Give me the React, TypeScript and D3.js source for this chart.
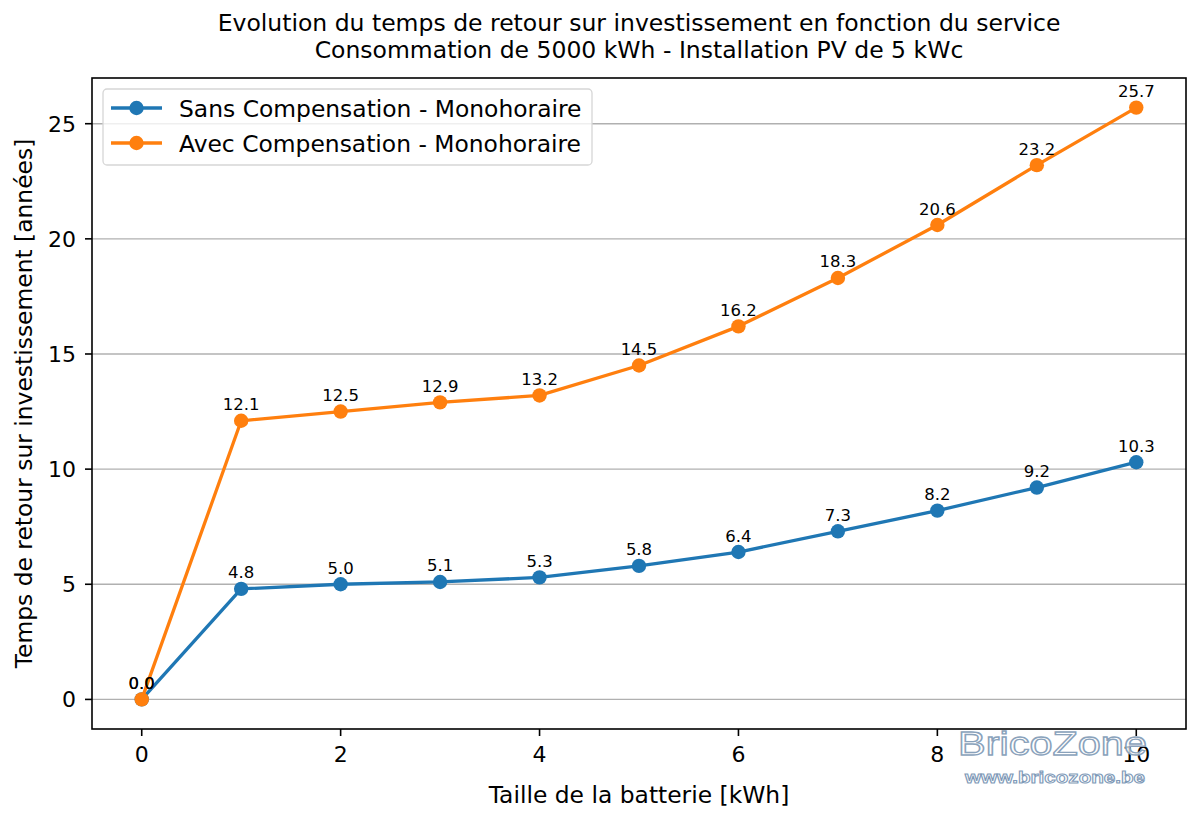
import React from "react";
import * as d3 from "d3";

// Battery size (kWh) and payback time (years) for each service option
const batterySizes = [0, 1, 2, 3, 4, 5, 6, 7, 8, 9, 10];
const sansCompensation = [0.0, 4.8, 5.0, 5.1, 5.3, 5.8, 6.4, 7.3, 8.2, 9.2, 10.3];
const avecCompensation = [0.0, 12.1, 12.5, 12.9, 13.2, 14.5, 16.2, 18.3, 20.6, 23.2, 25.7];
const seriesNames = ["Sans Compensation - Monohoraire", "Avec Compensation - Monohoraire"];
const seriesColors = ["#1f77b4", "#ff7f0e"];
const xTicks = [0, 2, 4, 6, 8, 10];
const yTicks = [0, 5, 10, 15, 20, 25];

const W = 1200;
const H = 823;
const left = 92;
const right = 1186;
const top = 78;
const bottom = 729;
const FONT = "DejaVu Sans, sans-serif";

export default function App() {
  const allValues = [...sansCompensation, ...avecCompensation];
  const yMin = d3.min(allValues) as number;
  const yMax = d3.max(allValues) as number;
  const yPad = (yMax - yMin) * 0.05;
  const xMin = d3.min(batterySizes) as number;
  const xMax = d3.max(batterySizes) as number;
  const xPad = (xMax - xMin) * 0.05;

  const x = d3.scaleLinear().domain([xMin - xPad, xMax + xPad]).range([left, right]);
  const y = d3.scaleLinear().domain([yMin - yPad, yMax + yPad]).range([bottom, top]);

  const line = d3
    .line<number>()
    .x((_, i) => x(batterySizes[i]))
    .y((d) => y(d));

  const series = [sansCompensation, avecCompensation];
  const cx = (left + right) / 2;

  return (
    <svg width={W} height={H} style={{ position: "absolute", left: 0, top: 0 }} fontFamily={FONT}>
      <rect width={W} height={H} fill="#ffffff" />
      <text x={cx} y={31} textAnchor="middle" fontSize={23.5}>
        Evolution du temps de retour sur investissement en fonction du service
      </text>
      <text x={cx} y={58} textAnchor="middle" fontSize={23.5}>
        Consommation de 5000 kWh - Installation PV de 5 kWc
      </text>

      {/* horizontal grid */}
      {yTicks.map((t) => (
        <line key={"g" + t} x1={left} x2={right} y1={y(t)} y2={y(t)} stroke="#b0b0b0" strokeWidth={1.4} />
      ))}

      {/* series */}
      {series.map((vals, si) => (
        <g key={"s" + si}>
          <path d={line(vals) || ""} fill="none" stroke={seriesColors[si]} strokeWidth={3.3} strokeLinejoin="round" />
          {vals.map((v, i) => (
            <circle key={i} cx={x(batterySizes[i])} cy={y(v)} r={7.2} fill={seriesColors[si]} />
          ))}
        </g>
      ))}

      {/* value labels */}
      {series.map((vals, si) => (
        <g key={"l" + si}>
          {vals.map((v, i) => (
            <text key={i} x={x(batterySizes[i])} y={y(v) - 10.5} textAnchor="middle" fontSize={16.5} fill="#000">
              {v.toFixed(1)}
            </text>
          ))}
        </g>
      ))}

      {/* axes frame */}
      <rect x={left} y={top} width={right - left} height={bottom - top} fill="none" stroke="#000" strokeWidth={1.6} />

      {/* x ticks */}
      {xTicks.map((t) => (
        <g key={"x" + t}>
          <line x1={x(t)} x2={x(t)} y1={bottom} y2={bottom + 7} stroke="#000" strokeWidth={1.6} />
          <text x={x(t)} y={762} textAnchor="middle" fontSize={22}>
            {t}
          </text>
        </g>
      ))}
      {/* y ticks */}
      {yTicks.map((t) => (
        <g key={"y" + t}>
          <line x1={left - 7} x2={left} y1={y(t)} y2={y(t)} stroke="#000" strokeWidth={1.6} />
          <text x={left - 16} y={y(t) + 8} textAnchor="end" fontSize={22}>
            {t}
          </text>
        </g>
      ))}

      <text x={cx} y={803} textAnchor="middle" fontSize={23.4}>
        Taille de la batterie [kWh]
      </text>
      <text transform={`translate(32,${(top + bottom) / 2}) rotate(-90)`} textAnchor="middle" fontSize={23.4}>
        Temps de retour sur investissement [années]
      </text>

      {/* legend */}
      <rect x={103} y={89} width={489} height={76} rx={4} fill="#ffffff" fillOpacity={0.8} stroke="#d6d6d6" strokeWidth={1.3} />
      {seriesNames.map((name, i) => {
        const ly = 108 + i * 35;
        return (
          <g key={"lg" + i}>
            <line x1={111} x2={162} y1={ly} y2={ly} stroke={seriesColors[i]} strokeWidth={3.3} />
            <circle cx={136.5} cy={ly} r={7.2} fill={seriesColors[i]} />
            <text x={179} y={ly + 9} fontSize={23.4}>
              {name}
            </text>
          </g>
        );
      })}

      {/* watermark */}
      <text x={958} y={755} textLength={189} lengthAdjust="spacingAndGlyphs" fontSize={33} fill="#ffffff" fillOpacity={0.75} stroke="#8aa2bb" strokeWidth={1.3} fontFamily="Liberation Sans, sans-serif">
        BricoZone
      </text>
      <text x={965} y={783} textLength={180} lengthAdjust="spacingAndGlyphs" fontSize={17} fontWeight="bold" fill="#ffffff" stroke="#7f9ab8" strokeWidth={1} fontFamily="Liberation Sans, sans-serif">
        www.bricozone.be
      </text>
    </svg>
  );
}
